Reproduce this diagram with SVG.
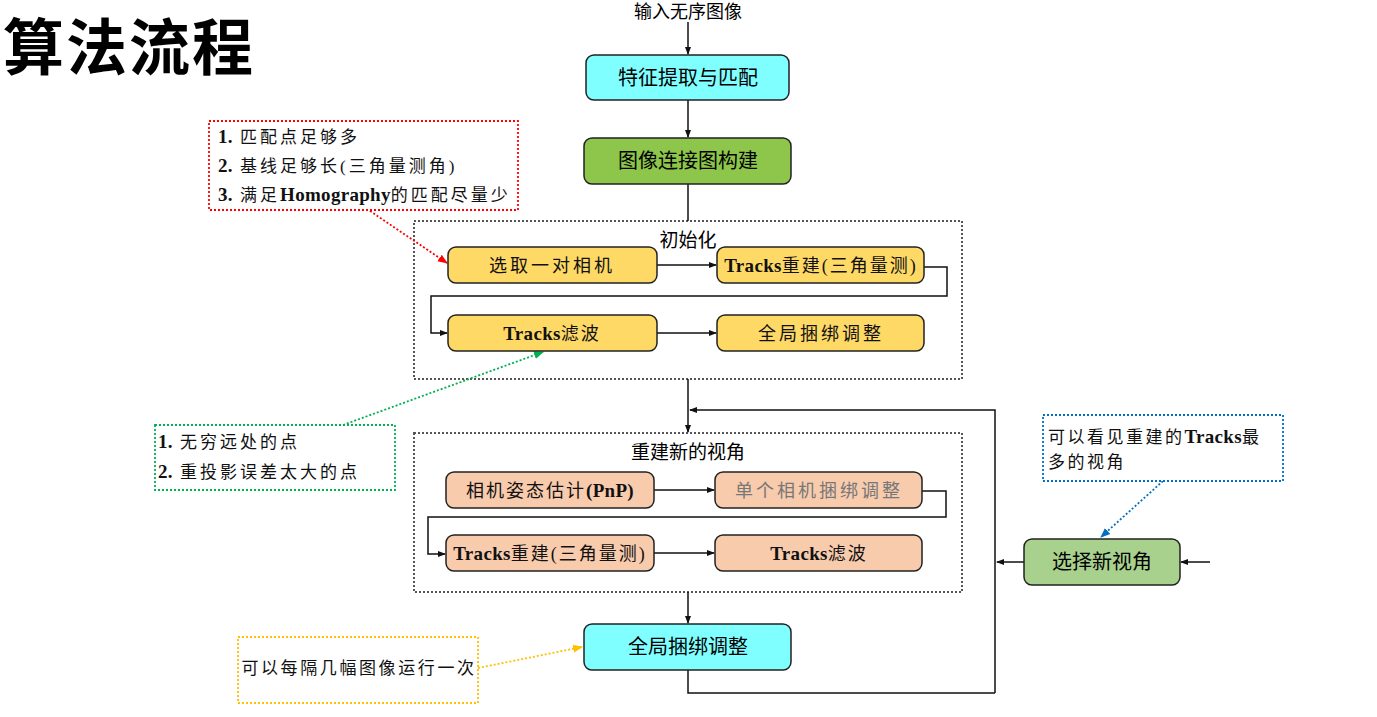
<svg xmlns="http://www.w3.org/2000/svg" width="1377" height="717" viewBox="0 0 1377 717">
<style>
.t{font-family:"Liberation Sans","Noto Sans CJK SC",sans-serif;fill:#000}
.s{font-family:"Liberation Serif","Noto Sans CJK SC",serif;fill:#111}
.b{font-weight:bold}
.k{font-weight:bold;letter-spacing:0.3px;font-size:19px}
.box{stroke:#222;stroke-width:1.5}
.grp{fill:none;stroke:#555;stroke-width:2;stroke-dasharray:2 2}
.ln{fill:none;stroke:#111;stroke-width:1.5}
.note{fill:#fff;stroke-width:1.8;stroke-dasharray:2 2}
</style>
<defs>
<marker id="ah" markerWidth="8" markerHeight="8" refX="7" refY="4" orient="auto" markerUnits="userSpaceOnUse"><path d="M0,1 L8,4 L0,7 Z" fill="#111"/></marker>
<marker id="ar" markerWidth="10" markerHeight="10" refX="9" refY="5" orient="auto" markerUnits="userSpaceOnUse"><path d="M0,1 L10,5 L0,9 Z" fill="#f00"/></marker>
<marker id="ag" markerWidth="10" markerHeight="10" refX="9" refY="5" orient="auto" markerUnits="userSpaceOnUse"><path d="M0,1 L10,5 L0,9 Z" fill="#00b050"/></marker>
<marker id="ab" markerWidth="10" markerHeight="10" refX="9" refY="5" orient="auto" markerUnits="userSpaceOnUse"><path d="M0,1 L10,5 L0,9 Z" fill="#0070c0"/></marker>
<marker id="ao" markerWidth="10" markerHeight="10" refX="9" refY="5" orient="auto" markerUnits="userSpaceOnUse"><path d="M0,1 L10,5 L0,9 Z" fill="#ffc000"/></marker>
</defs>
<rect width="1377" height="717" fill="#fff"/>
<text class="t b" x="3" y="70" font-size="61" letter-spacing="2">算法流程</text>
<text class="t" x="688" y="18" font-size="18" text-anchor="middle">输入无序图像</text>

<g id="groups">
<rect id="init" class="grp" x="414" y="221" width="548" height="158"/>
<text class="t" x="688" y="247" font-size="19" text-anchor="middle">初始化</text>
<rect id="newview" class="grp" x="414" y="433" width="548" height="159"/>
<text class="t" x="688" y="459" font-size="19" text-anchor="middle">重建新的视角</text>
</g>

<g id="connectors">
<path class="ln" d="M688,22 V54" marker-end="url(#ah)"/>
<path class="ln" d="M688,100 V137" marker-end="url(#ah)"/>
<path class="ln" d="M688,184 V221"/>
<path class="ln" d="M657,265 H716" marker-end="url(#ah)"/>
<path class="ln" d="M924,267 H947 V296 H431 V333 H447" marker-end="url(#ah)"/>
<path class="ln" d="M657,333 H716" marker-end="url(#ah)"/>
<path class="ln" d="M688,379 V432" marker-end="url(#ah)"/>
<path class="ln" d="M995,693 V410 H690" marker-end="url(#ah)"/>
<path class="ln" d="M654,490 H714" marker-end="url(#ah)"/>
<path class="ln" d="M922,491 H946 V517 H428 V554 H445" marker-end="url(#ah)"/>
<path class="ln" d="M654,553 H714" marker-end="url(#ah)"/>
<path class="ln" d="M688,592 V623" marker-end="url(#ah)"/>
<path class="ln" d="M688,670 V693 H995"/>
<path class="ln" d="M1210,562 H1181" marker-end="url(#ah)"/>
<path class="ln" d="M1024,562 H997" marker-end="url(#ah)"/>
<path d="M370,211 L447,263" fill="none" stroke="#f00" stroke-width="1.8" stroke-dasharray="2 2" marker-end="url(#ar)"/>
<path d="M343,425 L543,352" fill="none" stroke="#00b050" stroke-width="1.8" stroke-dasharray="2 2" marker-end="url(#ag)"/>
<path d="M1163,481 L1101,537" fill="none" stroke="#0070c0" stroke-width="1.8" stroke-dasharray="2 2" marker-end="url(#ab)"/>
<path d="M478,668 L582,647" fill="none" stroke="#ffc000" stroke-width="1.8" stroke-dasharray="2 2" marker-end="url(#ao)"/>
</g>

<g id="n1"><rect class="box" x="586" y="55" width="203" height="45" rx="8" fill="#7fffff"/><text class="t" x="688" y="85" font-size="20" text-anchor="middle">特征提取与匹配</text></g>
<g id="n2"><rect class="box" x="584" y="138" width="207" height="46" rx="8" fill="#8dc64a"/><text class="t" x="688" y="168" font-size="20" text-anchor="middle">图像连接图构建</text></g>

<g id="i1"><rect class="box" x="448" y="247" width="209" height="36" rx="8" fill="#ffd966"/><text class="s" x="552" y="272" font-size="18" text-anchor="middle" letter-spacing="3">选取一对相机</text></g>
<g id="i2"><rect class="box" x="717" y="247" width="207" height="36" rx="8" fill="#ffd966"/><text class="s" x="821" y="272" font-size="18" text-anchor="middle" letter-spacing="2"><tspan class="k">Tracks</tspan>重建(三角量测)</text></g>
<g id="i3"><rect class="box" x="448" y="315" width="209" height="36" rx="8" fill="#ffd966"/><text class="s" x="552" y="340" font-size="18" text-anchor="middle" letter-spacing="2"><tspan class="k">Tracks</tspan>滤波</text></g>
<g id="i4"><rect class="box" x="717" y="315" width="207" height="36" rx="8" fill="#ffd966"/><text class="s" x="821" y="340" font-size="18" text-anchor="middle" letter-spacing="3">全局捆绑调整</text></g>

<g id="r1"><rect class="box" x="446" y="472" width="208" height="36" rx="8" fill="#f8cbad"/><text class="s" x="550" y="497" font-size="18" text-anchor="middle" letter-spacing="2">相机姿态估计<tspan class="k">(PnP)</tspan></text></g>
<g id="r2"><rect class="box" x="715" y="472" width="207" height="36" rx="8" fill="#f8cbad"/><text class="s" x="819" y="497" font-size="18" text-anchor="middle" letter-spacing="3" style="fill:#777">单个相机捆绑调整</text></g>
<g id="r3"><rect class="box" x="446" y="535" width="208" height="36" rx="8" fill="#f8cbad"/><text class="s" x="550" y="560" font-size="18" text-anchor="middle" letter-spacing="2"><tspan class="k">Tracks</tspan>重建(三角量测)</text></g>
<g id="r4"><rect class="box" x="715" y="535" width="207" height="36" rx="8" fill="#f8cbad"/><text class="s" x="819" y="560" font-size="18" text-anchor="middle" letter-spacing="2"><tspan class="k">Tracks</tspan>滤波</text></g>

<g id="n3"><rect class="box" x="584" y="624" width="207" height="46" rx="8" fill="#7fffff"/><text class="t" x="688" y="654" font-size="20" text-anchor="middle">全局捆绑调整</text></g>
<g id="n4"><rect class="box" x="1024" y="539" width="156" height="46" rx="8" fill="#a9d18e"/><text class="t" x="1102" y="569" font-size="20" text-anchor="middle">选择新视角</text></g>

<g id="note1"><rect class="note" x="209" y="121" width="309" height="89" stroke="#f00"/>
<text class="s" x="218" y="143" font-size="17" letter-spacing="3"><tspan class="k" letter-spacing="0">1.</tspan>   匹配点足够多</text>
<text class="s" x="218" y="172" font-size="17" letter-spacing="3"><tspan class="k" letter-spacing="0">2.</tspan> 基线足够长(三角量测角)</text>
<text class="s" x="218" y="201" font-size="17" letter-spacing="3"><tspan class="k" letter-spacing="0">3.</tspan>  满足<tspan class="k" letter-spacing="0">Homography</tspan>的匹配尽量少</text></g>

<g id="note2"><rect class="note" x="155" y="425" width="240" height="65" stroke="#00b050"/>
<text class="s" x="158" y="448" font-size="17" letter-spacing="3"><tspan class="k" letter-spacing="0">1.</tspan> 无穷远处的点</text>
<text class="s" x="158" y="478" font-size="17" letter-spacing="3"><tspan class="k" letter-spacing="0">2.</tspan> 重投影误差太大的点</text></g>

<g id="note3"><rect class="note" x="1043" y="415" width="240" height="66" stroke="#0070c0"/>
<text class="s" x="1048" y="443" font-size="17" letter-spacing="2.5">可以看见重建的<tspan class="k" letter-spacing="0">Tracks</tspan>最</text>
<text class="s" x="1048" y="468" font-size="17" letter-spacing="2.5">多的视角</text></g>

<g id="note4"><rect class="note" x="238" y="637" width="240" height="66" stroke="#ffc000"/>
<text class="s" x="359" y="674" font-size="17" text-anchor="middle" letter-spacing="2.6">可以每隔几幅图像运行一次</text></g>
</svg>
